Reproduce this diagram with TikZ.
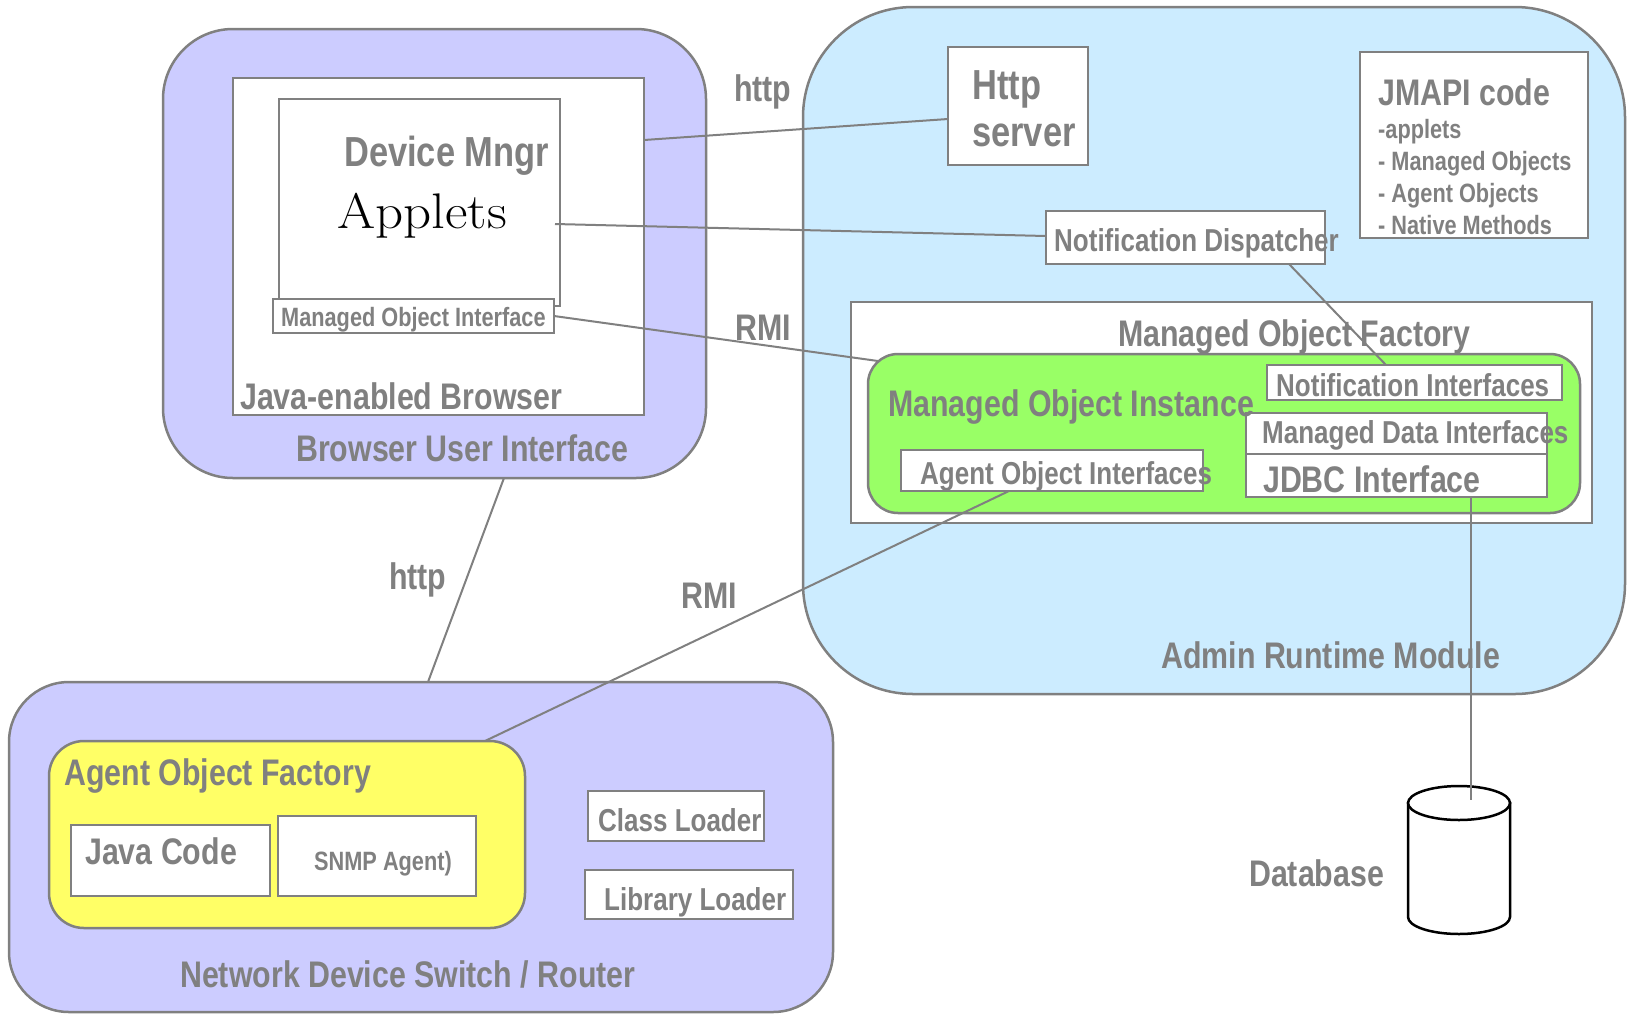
\documentclass[tikz,border=0pt]{standalone}
\usepackage{fontspec}
\newfontfamily\cond[FakeStretch=0.82]{Liberation Sans}
\usetikzlibrary{calc,shapes.geometric}
\definecolor{lgray}{RGB}{128,128,128}
\definecolor{lav}{RGB}{204,204,255}
\definecolor{lblue}{RGB}{204,236,255}
\definecolor{lgreen}{RGB}{153,255,102}
\definecolor{lyellow}{RGB}{255,255,102}
\newcommand\szXL{\fontsize{42}{48}\selectfont}
\newcommand\szL{\fontsize{37}{44}\selectfont}
\newcommand\szM{\fontsize{31.7}{38}\selectfont}
\newcommand\szS{\fontsize{26.5}{32}\selectfont}
\begin{document}
\begin{tikzpicture}[x=1pt,y=-1pt,
  box/.style={draw=lgray, line width=2.5pt, fill=white, rectangle, inner sep=0pt, outer sep=0pt, anchor=north west},
  lbl/.style={text=lgray, font=\cond\bfseries, inner sep=0pt, anchor=base west},
  conn/.style={draw=lgray, line width=2pt}]
\useasboundingbox (0,0) rectangle (1628,1013);
% Browser User Interface
\node[box, fill=lav, rounded corners=70pt, minimum width=543pt, minimum height=449pt] (bui) at (163,29) {};
\node[box, minimum width=411pt, minimum height=337pt] (jeb) at (233,78) {};
\node[box, minimum width=281pt, minimum height=207pt] (dm) at (279,99) {};
\node[box, minimum width=281pt, minimum height=34pt] (moi) at (273,299) {};
\node[lbl] (tdm) at (344,166) {\szXL Device Mngr};
\node[inner sep=0pt, anchor=base west, font=\fontsize{50}{56}\selectfont] (tapp) at (337,228) {\scalebox{1.1}[1]{Applets}};
\node[lbl] (tmoi) at (281,326) {\szS Managed Object Interface};
\node[lbl] (tjeb) at (240,409) {\szL Java-enabled Browser};
\node[lbl] (tbui) at (296,461) {\szL Browser User Interface};
% Admin Runtime Module
\node[box, fill=lblue, rounded corners=110pt, minimum width=822pt, minimum height=687pt] (arm) at (803,7) {};
\node[box, minimum width=140pt, minimum height=118pt] (hs) at (948,47) {};
\node[box, minimum width=228pt, minimum height=186pt] (jm) at (1360,52) {};
\node[box, minimum width=279pt, minimum height=53pt] (nd) at (1046,211) {};
\node[box, minimum width=741pt, minimum height=221pt] (mof) at (851,302) {};
\node[box, fill=lgreen, rounded corners=30pt, minimum width=712pt, minimum height=159pt] (mi) at (868,354) {};
\node[box, minimum width=295pt, minimum height=35pt] (ni) at (1267,365) {};
\node[box, minimum width=301pt, minimum height=41pt] (mdi) at (1246,413) {};
\node[box, minimum width=301pt, minimum height=43pt] (jdbc) at (1246,454) {};
\node[box, minimum width=302pt, minimum height=41pt] (aoi) at (901,450) {};
\node[lbl] (ths1) at (972,99) {\szXL Http};
\node[lbl] (ths2) at (972,146) {\szXL server};
\node[lbl] (tjm0) at (1378,105) {\szL JMAPI code};
\node[lbl] (tjm1) at (1378,138) {\szS -applets};
\node[lbl] (tjm2) at (1378,170) {\szS - Managed Objects};
\node[lbl] (tjm3) at (1378,202) {\szS - Agent Objects};
\node[lbl] (tjm4) at (1378,234) {\szS - Native Methods};
\node[lbl] (tnd) at (1054,251) {\szM Notification Dispatcher};
\node[lbl] (tmof) at (1118,346) {\szL Managed Object Factory};
\node[lbl] (tmi) at (888,416) {\szL Managed Object Instance};
\node[lbl] (tni) at (1276,396) {\szM Notification Interfaces};
\node[lbl] (tmdi) at (1262,443) {\szM Managed Data Interfaces};
\node[lbl] (tjdbc) at (1263,492) {\szL JDBC Interface};
\node[lbl] (taoi) at (920,484) {\szM Agent Object Interfaces};
\node[lbl] (tarm) at (1161,668) {\szL Admin Runtime Module};
% Network Device
\node[box, fill=lav, rounded corners=60pt, minimum width=824pt, minimum height=330pt] (nds) at (9,682) {};
\node[box, fill=lyellow, rounded corners=35pt, minimum width=476pt, minimum height=187pt] (aof) at (49,741) {};
\node[box, minimum width=199pt, minimum height=71pt] (jc) at (71,825) {};
\node[box, minimum width=198pt, minimum height=80pt] (snmp) at (278,816) {};
\node[box, minimum width=176pt, minimum height=50pt] (cl) at (588,791) {};
\node[box, minimum width=208pt, minimum height=49pt] (ll) at (585,870) {};
\node[lbl] (taof) at (64,785) {\szL Agent Object Factory};
\node[lbl] (tjc) at (85,864) {\szL Java Code};
\node[lbl] (tsnmp) at (314,870) {\szS SNMP Agent)};
\node[lbl] (tcl) at (598,831) {\szM Class Loader};
\node[lbl] (tll) at (604,910) {\szM Library Loader};
\node[lbl] (tnds) at (180,987) {\szL Network Device Switch / Router};
% Database
\coordinate (dbc) at (1459,803);
\filldraw[draw=black, fill=white, line width=2.5pt] ($(dbc)+(-51,0)$) -- ++(0,114) arc[start angle=180, end angle=360, x radius=51pt, y radius=17pt] -- ($(dbc)+(51,0)$) -- cycle;
\node[ellipse, draw=black, line width=2.5pt, fill=white, inner sep=0pt, minimum width=102pt, minimum height=34pt] (dbtop) at (dbc) {};
\node[lbl] (tdb) at (1249,886) {\szL Database};
% connectors
\draw[conn] (jeb.east |- 0,140) -- (hs.west |- 0,119);
\node[lbl] (thttp1) at (734,101) {\szL http};
\draw[conn] ($(dm.east |- 0,224)+(-5,0)$) -- (nd.west |- 0,236);
\draw[conn] (moi.east) -- ($(mi.north west)+(10,7)$);
\node[lbl] (trmi1) at (735,340) {\szL RMI};
\draw[conn] (nd.south -| 1289,0) -- (ni.north -| 1386,0);
\draw[conn] (bui.south -| 504,0) -- (nds.north -| 428,0);
\node[lbl] (thttp2) at (389,589) {\szL http};
\draw[conn] (aoi.south -| 1009,0) -- (aof.north -| 485,0);
\node[lbl] (trmi2) at (681,608) {\szL RMI};
\draw[conn] (jdbc.south -| 1471,0) -- ($(dbtop.center -| 1471,0)+(0,-3)$);
\end{tikzpicture}
\end{document}
